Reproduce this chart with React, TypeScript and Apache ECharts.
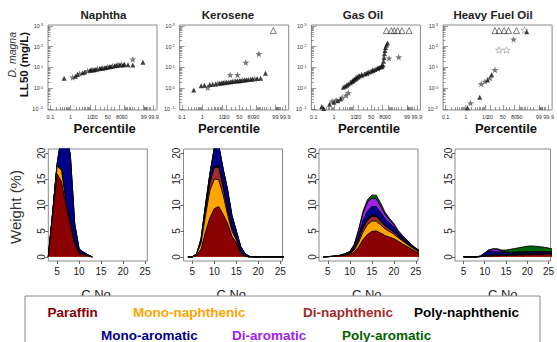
import React, { useEffect, useRef } from 'react';
import * as echarts from 'echarts';

const FONT = '"Liberation Sans", Arial, Helvetica, sans-serif';

// ---------------- top row: D. magna LL50 probability plots ----------------
const FRACTION_NAMES = ['Naphtha', 'Kerosene', 'Gas Oil', 'Heavy Fuel Oil'];
const PCT_TICKS = [0.1, 1, 10, 20, 50, 80, 90, 99, 99.9];
const PCT_TICK_LABELS = ['0.1', '1', '10', '20', '50', '80', '90', '99', '99.9'];
// calibration of the probability axis (fraction of axis length at each labelled percentile)
const PCT_AXIS_CALIBRATION = [0.022, 0.207, 0.386, 0.43, 0.548, 0.651, 0.702, 0.878, 0.968];
const PCT_MINOR_TICKS = [0.2, 0.3, 0.4, 0.5, 0.6, 0.7, 0.8, 0.9, 2, 3, 4, 5, 6, 7, 8, 9, 30, 40, 60, 70,
  91, 92, 93, 94, 95, 96, 97, 98, 99.1, 99.2, 99.3, 99.4, 99.5, 99.6, 99.7, 99.8];
const LL50_DECADES = [-1, 0, 1, 2, 3];

// [percentile, LL50 mg/L]
const NAPHTHA_TRI = [[0.48, 3.0], [1.8, 3.8], [2.3, 4.6], [4.3, 5.6], [5.5, 6.0], [10, 7.2], [12, 7.4], [18, 7.8], [22, 8.1], [30, 8.8], [34, 9.0], [42, 9.6], [46, 10], [55, 10.7], [60, 11], [70, 12], [75, 12.5], [82, 13], [88, 13.2], [90, 14], [93.3, 13.5], [96.2, 13], [98.9, 17.8]];
const NAPHTHA_STAR = [[1.3, 3.3], [3.0, 5.0], [7.6, 6.8], [15, 7.6], [25, 8.3], [37, 9.3], [50, 10.4], [65, 11.5], [78, 13.5], [85, 13.8], [96.2, 24.5]];

const KERO_TRI = [[0.38, 0.82], [0.88, 1.3], [1.3, 1.4], [2.5, 1.5], [3.5, 1.55], [5, 1.6], [8, 1.75], [10, 1.8], [13, 1.85], [20, 1.95], [24, 2.0], [28, 2.05], [32, 2.1], [40, 2.2], [45, 2.25], [50, 2.3], [55, 2.35], [65, 2.5], [70, 2.55], [75, 2.6], [80, 2.7], [84, 2.75], [91, 2.9], [94, 3.0], [96.6, 5.2]];
const KERO_STAR = [[1.9, 1.07], [6.5, 1.7], [16, 1.9], [27, 4.4], [36, 2.15], [45, 4.4], [60, 2.4], [68.6, 17], [88, 2.8], [92.6, 45]];
const KERO_OPEN = [[98.7, 590]];

const GAS_TRI = [[0.25, 0.13], [0.31, 0.105], [0.6, 0.17], [1.0, 0.21], [1.6, 0.25], [2.2, 0.3], [3.1, 1.1], [3.8, 1.25], [4.6, 1.4], [5.5, 1.6], [7, 1.85], [8.5, 2.1], [10, 2.4], [12, 2.7], [15, 3.0], [18, 3.4], [22, 3.9], [27, 4.3], [33, 4.8], [38, 5.3], [44, 6.0], [50, 6.6], [56, 7.3], [62, 8.0], [68, 9.0], [73, 10], [78, 11.5], [81, 13], [82.5, 20], [83.5, 30], [84.5, 45], [85.5, 65], [86.5, 90], [88, 120], [89.5, 150]];
const GAS_STAR = [[0.8, 0.23], [1.3, 0.27], [2.7, 0.35], [4.3, 0.45], [5.6, 0.6], [9, 2.2], [14, 2.9], [20, 3.7], [26, 4.4], [40, 5.3], [55, 7.1], [70, 8.8], [78, 10.5], [80, 11], [91.2, 27.5], [97.2, 31]];
const GAS_OPEN = [[87.7, 590], [93.2, 590], [95.2, 590], [96.8, 590], [98.1, 590], [99.37, 590]];

const HFO_TRI = [[1.24, 0.115], [5.4, 0.37], [14.2, 2.5], [23, 4.4], [95.6, 520]];
const HFO_STAR = [[1.8, 0.19], [6.4, 1.6], [9.8, 2.1], [19.8, 3.0], [30, 7.6], [79, 225]];
const HFO_LIGHT_STAR = [[40, 69], [61, 69], [94.3, 630]];
const HFO_OPEN = [[30, 590], [40, 590], [54, 590], [67, 590], [85, 590]];

// ---------------- bottom row: composition by carbon number ----------------
const CLASS_NAMES = ['Paraffin', 'Mono-naphthenic', 'Di-naphthenic', 'Poly-naphthenic', 'Mono-aromatic', 'Di-aromatic', 'Poly-aromatic'];
const CLASS_COLORS = ['#8B0000', '#FFA500', '#A52A2A', '#000000', '#00008B', '#A020F0', '#006400'];
const C_TICKS = [5, 10, 15, 20, 25];
const WEIGHT_TICKS = [0, 5, 10, 15, 20];

const NAPHTHA_CARBON = [3, 4, 5, 6, 7, 8, 9, 10, 11, 12, 13];
const NAPHTHA_PARAFFIN = [0, 8, 16, 14.5, 10, 6.2, 2.5, 0.6, 0.5, 0.2, 0];
const NAPHTHA_MONO_N = [0, 0.4, 1.5, 2.2, 0.6, 0.4, 0.3, 0.1, 0, 0, 0];
const NAPHTHA_DI_N = [0, 0, 0.1, 0.1, 0.1, 0.1, 0.05, 0, 0, 0, 0];
const NAPHTHA_POLY_N = [0, 0, 0, 0, 0, 0, 0, 0, 0, 0, 0];
const NAPHTHA_MONO_A = [0, 0.2, 0.3, 6.5, 13, 13, 3.5, 0.8, 0.4, 0.2, 0];
const NAPHTHA_DI_A = [0, 0, 0, 0, 0, 0, 0, 0, 0, 0, 0];
const NAPHTHA_POLY_A = [0, 0, 0, 0, 0, 0, 0, 0, 0, 0, 0];

const KERO_CARBON = [4, 5, 6, 7, 8, 9, 10, 11, 12, 13, 14, 15, 16, 17, 18, 19, 20, 21, 22, 23, 24, 25, 26];
const KERO_PARAFFIN = [0, 0, 0.3, 1.5, 4.8, 7.5, 9.3, 9.7, 8.2, 6.5, 4.0, 2.7, 0.6, 0.1, 0, 0, 0, 0, 0, 0, 0, 0, 0];
const KERO_MONO_N = [0, 0, 0.2, 1.2, 3.2, 5.3, 5.7, 5.2, 3.8, 1.7, 1.0, 0.5, 0.2, 0, 0, 0, 0, 0, 0, 0, 0, 0, 0];
const KERO_DI_N = [0, 0, 0, 0.3, 0.8, 1.5, 2.2, 2.4, 1.5, 0.9, 0.5, 0.3, 0.1, 0, 0, 0, 0, 0, 0, 0, 0, 0, 0];
const KERO_POLY_N = [0, 0, 0, 0, 0.2, 0.2, 0.3, 0.3, 0.3, 0.2, 0.2, 0, 0, 0, 0, 0, 0, 0, 0, 0, 0, 0, 0];
const KERO_MONO_A = [0, 0, 0.1, 0.5, 1.0, 1.5, 3.5, 3.9, 3.2, 3.7, 2.3, 1.5, 1.1, 0.5, 0.1, 0, 0, 0, 0, 0, 0, 0, 0];
const KERO_DI_A = [0, 0, 0, 0, 0, 0, 0, 0, 0, 0, 0, 0, 0, 0, 0, 0, 0, 0, 0, 0, 0, 0, 0];
const KERO_POLY_A = [0, 0, 0, 0, 0, 0, 0, 0, 0, 0, 0, 0, 0, 0, 0, 0, 0, 0, 0, 0, 0, 0, 0];

const GAS_CARBON = [4, 5, 6, 7, 8, 9, 10, 11, 12, 13, 14, 15, 16, 17, 18, 19, 20, 21, 22, 23, 24, 25, 26];
const GAS_PARAFFIN = [0, 0.04, 0.08, 0.12, 0.2, 0.3, 0.45, 0.9, 1.9, 3.3, 4.3, 4.9, 5.0, 4.6, 4.1, 3.8, 3.5, 3.0, 2.5, 2.0, 1.5, 1.0, 0.6];
const GAS_MONO_N = [0, 0, 0, 0.03, 0.05, 0.1, 0.15, 0.4, 0.9, 1.5, 1.9, 2.0, 1.9, 1.6, 1.3, 1.1, 0.9, 0.7, 0.55, 0.45, 0.35, 0.3, 0.2];
const GAS_DI_N = [0, 0, 0, 0, 0, 0.05, 0.05, 0.15, 0.4, 0.7, 0.85, 0.9, 0.9, 0.7, 0.55, 0.45, 0.35, 0.25, 0.2, 0.15, 0.1, 0.1, 0.05];
const GAS_POLY_N = [0, 0, 0, 0, 0, 0, 0, 0.05, 0.15, 0.2, 0.25, 0.3, 0.3, 0.2, 0.15, 0.1, 0.1, 0.05, 0.05, 0.05, 0, 0, 0];
const GAS_MONO_A = [0, 0, 0.03, 0.05, 0.1, 0.15, 0.25, 0.45, 0.9, 1.3, 1.5, 1.6, 1.6, 1.5, 1.3, 1.1, 0.9, 0.6, 0.45, 0.35, 0.25, 0.2, 0.15];
const GAS_DI_A = [0, 0, 0, 0, 0, 0.05, 0.1, 0.35, 0.8, 1.4, 1.7, 1.6, 1.5, 1.2, 0.8, 0.6, 0.45, 0.3, 0.2, 0.15, 0.1, 0.05, 0.05];
const GAS_POLY_A = [0, 0, 0, 0, 0, 0, 0.05, 0.1, 0.2, 0.4, 0.5, 0.6, 0.7, 0.6, 0.4, 0.3, 0.25, 0.2, 0.15, 0.1, 0.1, 0.05, 0.05];

const HFO_CARBON = [5, 6, 7, 8, 9, 10, 11, 12, 13, 14, 15, 16, 17, 18, 19, 20, 21, 22, 23, 24, 25, 26];
const HFO_PARAFFIN = [0, 0, 0, 0, 0.05, 0.1, 0.15, 0.2, 0.2, 0.25, 0.25, 0.3, 0.3, 0.35, 0.35, 0.4, 0.4, 0.45, 0.45, 0.5, 0.5, 0.5];
const HFO_MONO_N = [0, 0, 0, 0, 0, 0.05, 0.05, 0.05, 0.05, 0.05, 0.05, 0.05, 0.05, 0.05, 0.05, 0.05, 0.05, 0.05, 0.05, 0.05, 0.05, 0.05];
const HFO_DI_N = [0, 0, 0, 0, 0, 0, 0.05, 0.05, 0.05, 0.05, 0.05, 0.05, 0.05, 0.05, 0.05, 0.05, 0.05, 0.05, 0.05, 0.05, 0.05, 0.05];
const HFO_POLY_N = [0, 0, 0, 0, 0, 0.05, 0.1, 0.1, 0.1, 0.1, 0.1, 0.1, 0.1, 0.1, 0.1, 0.1, 0.1, 0.1, 0.1, 0.1, 0.1, 0.05];
const HFO_MONO_A = [0, 0, 0, 0, 0.1, 0.5, 0.8, 0.7, 0.6, 0.4, 0.35, 0.3, 0.3, 0.3, 0.3, 0.3, 0.3, 0.3, 0.3, 0.25, 0.25, 0.2];
const HFO_DI_A = [0, 0, 0, 0, 0, 0.05, 0.2, 0.4, 0.45, 0.2, 0.15, 0.1, 0.1, 0.1, 0.1, 0.1, 0.1, 0.1, 0.1, 0.1, 0.05, 0.05];
const HFO_POLY_A = [0, 0, 0, 0, 0, 0, 0, 0.05, 0.1, 0.25, 0.35, 0.55, 0.7, 0.8, 0.95, 1.05, 1.1, 1.0, 0.9, 0.8, 0.7, 0.6];

const TOXICITY = [
  { tri: NAPHTHA_TRI, star: NAPHTHA_STAR, light: [] as number[][], open: [] as number[][] },
  { tri: KERO_TRI, star: KERO_STAR, light: [] as number[][], open: KERO_OPEN },
  { tri: GAS_TRI, star: GAS_STAR, light: [] as number[][], open: GAS_OPEN },
  { tri: HFO_TRI, star: HFO_STAR, light: HFO_LIGHT_STAR, open: HFO_OPEN },
];
const COMPOSITION = [
  { carbon: NAPHTHA_CARBON, layers: [NAPHTHA_PARAFFIN, NAPHTHA_MONO_N, NAPHTHA_DI_N, NAPHTHA_POLY_N, NAPHTHA_MONO_A, NAPHTHA_DI_A, NAPHTHA_POLY_A] },
  { carbon: KERO_CARBON, layers: [KERO_PARAFFIN, KERO_MONO_N, KERO_DI_N, KERO_POLY_N, KERO_MONO_A, KERO_DI_A, KERO_POLY_A] },
  { carbon: GAS_CARBON, layers: [GAS_PARAFFIN, GAS_MONO_N, GAS_DI_N, GAS_POLY_N, GAS_MONO_A, GAS_DI_A, GAS_POLY_A] },
  { carbon: HFO_CARBON, layers: [HFO_PARAFFIN, HFO_MONO_N, HFO_DI_N, HFO_POLY_N, HFO_MONO_A, HFO_DI_A, HFO_POLY_A] },
];

// probability-paper scale (piecewise in logit space between calibrated percentiles)
const logit = (p: number) => Math.log(p / (100 - p));
function pctPos(p: number): number {
  const l = logit(p);
  const ks = PCT_TICKS.map(logit);
  let i = 0;
  while (i < ks.length - 2 && l > ks[i + 1]) i++;
  const t = (l - ks[i]) / (ks[i + 1] - ks[i]);
  return PCT_AXIS_CALIBRATION[i] + t * (PCT_AXIS_CALIBRATION[i + 1] - PCT_AXIS_CALIBRATION[i]);
}
function pctLabel(v: number): string {
  let best = 0;
  PCT_TICKS.forEach((p, i) => {
    if (Math.abs(pctPos(p) - v) < Math.abs(pctPos(PCT_TICKS[best]) - v)) best = i;
  });
  return PCT_TICK_LABELS[best];
}

const STAR_PATH = 'path://M0,-10L2.35,-3.24L9.51,-3.09L3.8,1.24L5.88,8.09L0,4L-5.88,8.09L-3.8,1.24L-9.51,-3.09L-2.35,-3.24Z';

function buildOption() {
  const TOP_LEFTS = [48, 179.7, 311.4, 443.1];
  const TOP_W = 109, TOP_T = 25, TOP_H = 85;
  const TITLE_X = [103.5, 228, 363, 493];
  const PERC_X = [104.7, 229, 369, 506];
  const BOT_LEFTS = [48.3, 183.5, 319, 455];
  const BOT_W = 99, BOT_T = 149, BOT_H = 112;

  const grids: any[] = [];
  const xAxes: any[] = [];
  const yAxes: any[] = [];
  const series: any[] = [];
  const graphics: any[] = [];

  const pctMajor = PCT_TICKS.map(pctPos);
  const pctMinor = PCT_MINOR_TICKS.map(pctPos);
  const logMinor: number[] = [];
  [-1, 0, 1, 2].forEach((d) => { for (let k = 2; k <= 9; k++) logMinor.push(d + Math.log10(k)); });

  const tickStyle = { color: '#555', width: 0.6 };
  const noLine = { show: false, onZero: false };

  TOP_LEFTS.forEach((left, i) => {
    grids.push({ left, top: TOP_T, width: TOP_W, height: TOP_H, show: true, borderColor: '#8a8a8a', borderWidth: 1 });
    xAxes.push({
      type: 'value', gridIndex: i, min: 0, max: 1, position: 'bottom', axisLine: noLine, splitLine: { show: false },
      axisTick: { show: true, inside: true, length: 5, customValues: pctMajor, lineStyle: tickStyle },
      axisLabel: { customValues: pctMajor, formatter: (v: number) => pctLabel(v), fontSize: 5.5, color: '#333', margin: 4, fontFamily: FONT },
    });
    xAxes.push({
      type: 'value', gridIndex: i, min: 0, max: 1, position: 'bottom', axisLine: noLine, splitLine: { show: false },
      axisLabel: { show: false }, axisTick: { show: true, inside: true, length: 3, customValues: pctMinor, lineStyle: tickStyle },
    });
    yAxes.push({
      type: 'value', gridIndex: i, min: -1.05, max: 3.04, position: 'left', axisLine: noLine, splitLine: { show: false },
      axisTick: { show: true, inside: true, length: 5, customValues: LL50_DECADES, lineStyle: tickStyle },
      axisLabel: {
        customValues: LL50_DECADES, margin: 5, color: '#333',
        formatter: (v: number) => `{b|10}{s|${Math.round(v)}}`,
        rich: {
          b: { fontSize: 5.5, color: '#333', fontFamily: FONT },
          s: { fontSize: 4, color: '#333', fontFamily: FONT, verticalAlign: 'top', padding: [0, 0, 0, 1] },
        },
      },
    });
    yAxes.push({
      type: 'value', gridIndex: i, min: -1.05, max: 3.04, position: 'left', axisLine: noLine, splitLine: { show: false },
      axisLabel: { show: false }, axisTick: { show: true, inside: true, length: 2.5, customValues: logMinor, lineStyle: tickStyle },
    });
    const set = TOXICITY[i];
    const toPts = (arr: number[][]) => arr.map(([p, v]) => [pctPos(p), Math.log10(v)]);
    const base = { type: 'scatter', xAxisIndex: 2 * i, yAxisIndex: 2 * i, silent: true, symbolKeepAspect: true };
    series.push({ ...base, data: toPts(set.star), symbol: STAR_PATH, symbolSize: 7, itemStyle: { color: '#555' } });
    series.push({ ...base, data: toPts(set.light), symbol: STAR_PATH, symbolSize: 7, itemStyle: { color: 'rgba(255,255,255,0)', borderColor: '#999', borderWidth: 0.8 } });
    series.push({ ...base, data: toPts(set.tri), symbol: 'triangle', symbolSize: 5, itemStyle: { color: '#111' } });
    series.push({ ...base, data: toPts(set.open), symbol: 'triangle', symbolSize: 6, itemStyle: { color: 'rgba(255,255,255,0)', borderColor: '#333', borderWidth: 0.8 } });

    graphics.push({ type: 'text', x: TITLE_X[i], y: 14.5, z: 5, style: { text: FRACTION_NAMES[i], fontSize: 11.5, fontWeight: 'bold', fontFamily: FONT, fill: '#222', align: 'center', verticalAlign: 'middle' } });
    graphics.push({ type: 'text', x: PERC_X[i], y: 128.5, z: 5, style: { text: 'Percentile', fontSize: 13, fontWeight: 'bold', fontFamily: FONT, fill: '#111', align: 'center', verticalAlign: 'middle' } });
  });

  BOT_LEFTS.forEach((left, i) => {
    const g = 4 + i;
    grids.push({ left, top: BOT_T, width: BOT_W, height: BOT_H, show: true, borderColor: '#8a8a8a', borderWidth: 1 });
    xAxes.push({
      type: 'value', gridIndex: g, min: 3, max: 25.5, position: 'bottom', axisLine: noLine, splitLine: { show: false },
      axisTick: { show: true, length: 3, customValues: C_TICKS, lineStyle: { color: '#444', width: 0.8 } },
      axisLabel: { customValues: C_TICKS, fontSize: 10, color: '#222', margin: 5, fontFamily: FONT },
    });
    yAxes.push({
      type: 'value', gridIndex: g, min: -0.8, max: 20.8, position: 'left', axisLine: noLine, splitLine: { show: false },
      axisTick: { show: true, length: 3, customValues: WEIGHT_TICKS, lineStyle: { color: '#444', width: 0.8 } },
      axisLabel: { customValues: WEIGHT_TICKS, fontSize: 10, color: '#222', margin: 2, rotate: 90, fontFamily: FONT },
    });
    const comp = COMPOSITION[i];
    // cumulative tops of the stacked classes; drawn from the top class down so each lower band paints over
    const cum: number[][] = [];
    comp.layers.forEach((layer, k) => {
      cum.push(layer.map((v, j) => v + (k > 0 ? cum[k - 1][j] : 0)));
    });
    for (let k = comp.layers.length - 1; k >= 0; k--) {
      series.push({
        type: 'line', xAxisIndex: 8 + i, yAxisIndex: 8 + i, silent: true, z: 2 + (comp.layers.length - k) * 0.01,
        data: comp.carbon.map((c, j) => [c, cum[k][j]]),
        symbol: 'none', showSymbol: false, clip: true,
        lineStyle: { color: '#000', width: 0.9 },
        areaStyle: { color: CLASS_COLORS[k], opacity: 1, origin: 'auto' },
      });
    }
    graphics.push({ type: 'text', x: left + BOT_W / 2, y: 288, z: 5, style: { text: 'C No.', fontSize: 13, fontFamily: FONT, fill: '#222', align: 'center', verticalAlign: 'top' } });
  });

  graphics.push({ type: 'text', x: 11.5, y: 32, rotation: Math.PI / 2, z: 5, style: { text: 'D. magna', fontSize: 10.5, fontStyle: 'italic', fontFamily: FONT, fill: '#333', align: 'right', verticalAlign: 'middle' } });
  graphics.push({ type: 'text', x: 23.5, y: 32, rotation: Math.PI / 2, z: 5, style: { text: 'LL50 (mg/L)', fontSize: 11.5, fontWeight: 'bold', fontFamily: FONT, fill: '#111', align: 'right', verticalAlign: 'middle' } });
  graphics.push({ type: 'text', x: 15, y: 207, rotation: Math.PI / 2, z: 5, style: { text: 'Weight (%)', fontSize: 15, fontFamily: FONT, fill: '#333', align: 'center', verticalAlign: 'middle' } });

  // legend box
  graphics.push({ type: 'rect', z: 20, shape: { x: 25, y: 296, width: 515, height: 60 }, style: { fill: '#fff', stroke: '#8a8a8a', lineWidth: 1 } });
  const LEGEND_POS = [[47.5, 312.5], [133, 312.5], [303, 312.5], [414, 312.5], [101, 335], [232, 335], [342, 335]];
  CLASS_NAMES.forEach((name, k) => {
    graphics.push({ type: 'text', z: 21, x: LEGEND_POS[k][0], y: LEGEND_POS[k][1], style: { text: name, fontSize: 13.5, fontWeight: 'bold', fontFamily: FONT, fill: CLASS_COLORS[k], align: 'left', verticalAlign: 'middle' } });
  });

  return {
    animation: false,
    backgroundColor: '#fff',
    textStyle: { fontFamily: FONT },
    grid: grids,
    xAxis: xAxes,
    yAxis: yAxes,
    series,
    graphic: { elements: graphics },
  };
}

export default function App() {
  const ref = useRef<HTMLDivElement>(null);
  useEffect(() => {
    if (!ref.current) return;
    const chart = echarts.init(ref.current, undefined, { renderer: 'svg' });
    chart.setOption(buildOption() as any);
    return () => chart.dispose();
  }, []);
  return <div ref={ref} style={{ position: 'fixed', left: 0, top: 0, width: 557, height: 342, background: '#fff' }} />;
}
